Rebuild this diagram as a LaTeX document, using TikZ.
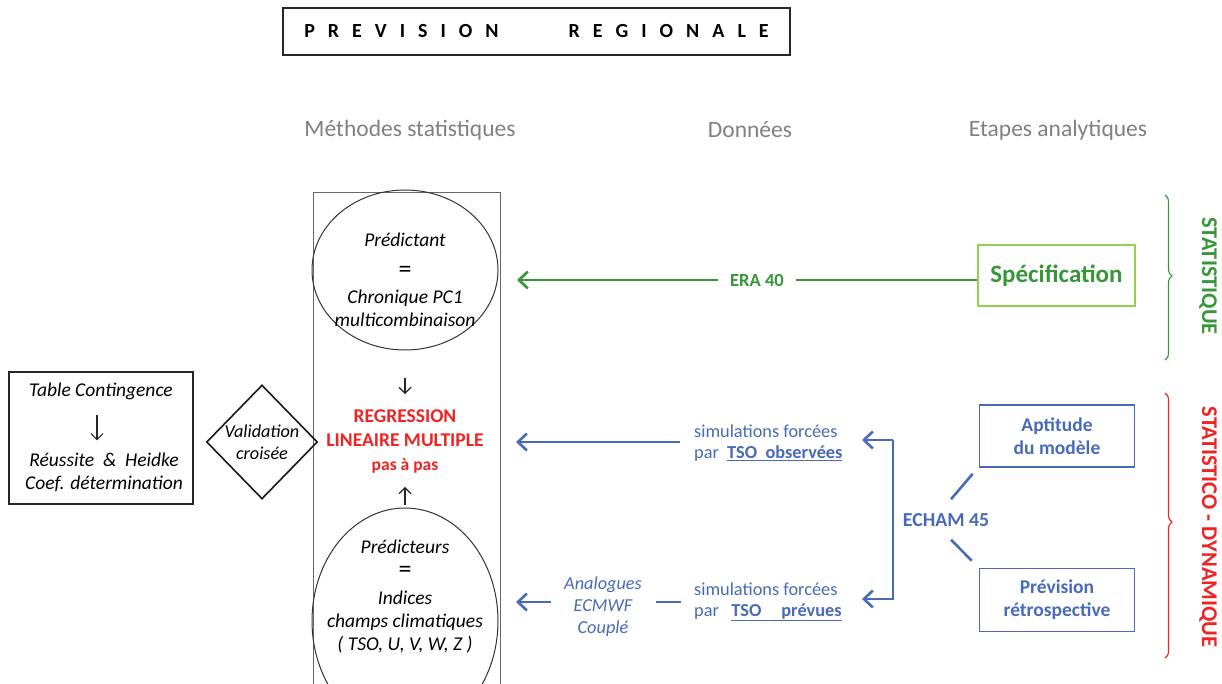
\documentclass[tikz,border=0pt]{standalone}
\usepackage{fontspec}
\setmainfont{Carlito}
\usetikzlibrary{arrows.meta,shapes.geometric,decorations.pathreplacing,calc}
\definecolor{hgray}{RGB}{128,128,128}
\definecolor{fgreen}{RGB}{56,150,58}
\definecolor{lgreen}{RGB}{146,208,80}
\definecolor{fred}{RGB}{238,36,36}
\definecolor{fblue}{RGB}{72,106,184}
\newcommand{\fs}[1]{\fontsize{#1}{#1}\selectfont}
\newcommand{\lsp}{\kern 13pt}
\newcommand{\bigeq}{{\fontsize{26}{23}\selectfont\upshape =}}
\begin{document}
\begin{tikzpicture}[x=1pt,y=-1pt,
  header/.style={text=hgray, font=\fs{23.5}, inner sep=0},
  kbox/.style={draw=black!85, line width=1.4pt, inner sep=0},
  itxt/.style={font=\fontsize{19.5}{23}\selectfont\itshape, align=center, inner sep=0},
  karrow/.style={-{Straight Barb[length=6pt,width=12pt]}, line width=1.1pt, black!85},
  garrow/.style={fgreen, line width=2.6pt},
  barrow/.style={fblue, line width=2.6pt},
  tipb/.style={-{Straight Barb[length=9pt,width=17pt]}},
  bluebox/.style={draw=fblue, line width=1.6pt, minimum width=155pt, minimum height=62pt, inner sep=0,
     text=fblue, font=\fontsize{19.5}{23}\selectfont\bfseries, align=center},
  btxt/.style={text=fblue, font=\fontsize{18.3}{21}\selectfont, align=left, inner sep=0},
  sidetxt/.style={rotate=-90, font=\fs{22.5}\bfseries, inner sep=0},
]
\clip (0,0) rectangle (1222,684);
\fill[white] (0,0) rectangle (1222,684);

% title
\node[draw=black!85, line width=1.8pt, minimum width=507pt, minimum height=47pt, inner sep=0,
      font=\fs{20}\bfseries] (title) at (536.5,31.5)
  {P\lsp R\lsp E\lsp V\lsp I\lsp S\lsp I\lsp O\lsp N\kern 70pt R\lsp E\lsp G\lsp I\lsp O\lsp N\lsp A\lsp L\lsp E};

% headers
\node[header] (h1) at (410,130) {Méthodes statistiques};
\node[header] (h2) at (750,130) {Données};
\node[header] (h3) at (1058,130) {Etapes analytiques};

% methods column
\node[draw=black!60, line width=0.9pt, minimum width=187pt, minimum height=540pt, anchor=north west, inner sep=0] (methods) at (313,192) {};
\node[ellipse, draw=black!80, line width=1pt, minimum width=186pt, minimum height=160pt, inner sep=0] (pred) at (405,270) {};
\node[itxt] (predtxt) at (405,280) {Prédictant\\[8pt]\bigeq\\[3pt]Chronique PC1\\multicombinaison};
\node[ellipse, draw=black!80, line width=1pt, minimum width=186pt, minimum height=226pt, inner sep=0] (pred2) at (405,621) {};
\node[itxt] (pred2txt) at (405,597) {Prédicteurs\\[1pt]\bigeq\\[4pt]Indices\\champs climatiques\\( TSO, U, V, W, Z )};
\node[text=fred, align=center, inner sep=0, font=\fontsize{19.5}{24}\selectfont\bfseries] (reg) at (405,441)
  {REGRESSION\\LINEAIRE MULTIPLE\\{\fs{17.5}pas à pas}};
\draw[karrow] ($(pred.south)+(0,27)$) -- ($(reg.north)+(0,-15)$);
\draw[karrow] ($(pred2.north)+(0,-3)$) -- ($(reg.south)+(0,14)$);

% left side
\node[kbox, minimum width=184pt, minimum height=132pt] (lbox) at (101,438) {};
\node[itxt] (tc) at (101,391) {Table Contingence};
\node[itxt] (rh) at (104,472) {Réussite\ \ \&\ \ Heidke\\Coef. détermination};
\draw[karrow] ($(tc.south)+(-4,15)$) -- ($(rh.north)+(-7,-12)$);
\node[diamond, draw=black!90, line width=1.6pt, minimum width=111pt, minimum height=114pt, inner sep=0,
      font=\fontsize{18.2}{22}\selectfont\itshape, align=center] (valid) at (262,442) {Validation\\croisée};

% green
\node[draw=lgreen, line width=1.8pt, minimum width=157pt, minimum height=61pt, inner sep=0,
      text=fgreen, font=\fs{25}\bfseries] (spec) at (1056.5,275.5) {Spécification};
\node[text=fgreen, font=\fs{18.5}\bfseries, inner xsep=12pt, inner ysep=0] (era) at (757,280) {ERA 40};
\coordinate (gend) at (517,280);
\draw[garrow] (spec.west |- era.east) -- (era.east);
\draw[garrow, tipb] (era.west) -- (gend);
\draw[fgreen, line width=1.1pt, decorate, decoration={brace, amplitude=7pt, aspect=0.49}] (1165,195) -- (1165,360);
\node[sidetxt, text=fgreen] (stat) at (1208,276) {STATISTIQUE};
\draw[fred, line width=1.1pt, decorate, decoration={brace, amplitude=7pt, aspect=0.487}] (1165,393) -- (1165,658);
\node[sidetxt, text=fred] (statdyn) at (1208,527) {STATISTICO - DYNAMIQUE};

% blue
\node[bluebox] (apt) at (1057,436) {Aptitude\\du modèle};
\node[bluebox, minimum height=63pt] (prev) at (1057,600) {Prévision\\rétrospective};
\node[text=fblue, font=\fs{19.8}\bfseries, inner sep=0] (echam) at (946,520) {ECHAM 45};
\draw[barrow] ($(echam.north)+(5,-14)$) -- ($(apt.south west)+(-6,6)$);
\draw[barrow] ($(echam.south)+(5,13)$) -- ($(prev.north west)+(-7,-7)$);
\node[btxt, anchor=west] (simobs) at (694,443) {simulations forcées\\par\ \ \underline{\textbf{TSO\ \ observées}}};
\node[btxt, anchor=west] (simprev) at (694,602) {simulations forcées\\par\ \ \ \underline{\textbf{TSO\hspace{20pt}prévues}}};
\coordinate (o1) at (862,440);
\coordinate (p1) at (862,599);
\draw[barrow, tipb] (893,440) -- (o1);
\draw[barrow, tipb] (893,440) -- (893,599) -- (p1);
\coordinate (bend1) at (516,442);
\draw[barrow, tipb] ($(simobs.west)+(-14,-1)$) -- (bend1);
\node[text=fblue, font=\fontsize{18.3}{22}\selectfont\itshape, align=center, inner sep=0] (analog) at (603,607) {Analogues\\ECMWF\\Couplé};
\coordinate (bend2) at (516,602);
\draw[barrow, tipb] ($(analog.west)+(-13,-5)$) -- (bend2);
\draw[barrow] ($(simprev.west)+(-13,0)$) -- ($(analog.east)+(14,-5)$);
\end{tikzpicture}
\end{document}
